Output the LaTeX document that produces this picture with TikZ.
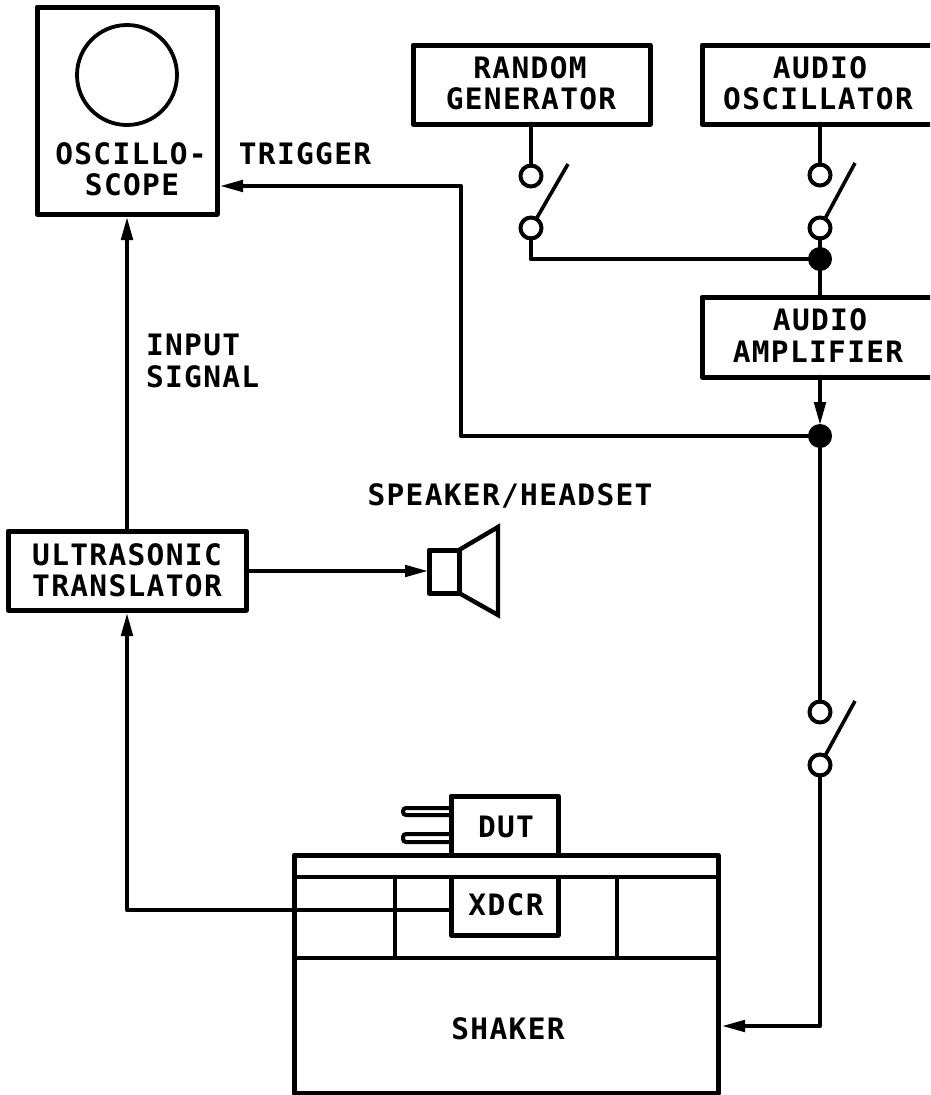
\documentclass[tikz,border=0pt]{standalone}
\usepackage{fontspec}
\setmainfont{DejaVu Sans Mono}[BoldFont=* Bold]
\usetikzlibrary{arrows.meta}
\tikzset{
  x=1pt,y=-1pt,
  wire/.style={line width=4.6pt,line join=round,line cap=round},
  armwire/.style={line width=3.6pt},
  flow/.style={wire,-{Triangle[length=24pt,width=11pt,sep=0pt]}},
  box/.style={draw,line width=5pt,line join=round},
  lab/.style={font=\fontsize{29.5}{31}\selectfont\bfseries\addfontfeature{LetterSpace=4.5},inner sep=0pt,outer sep=0pt,anchor=center},
  labl/.style={lab,anchor=west},
  term/.style={circle,draw,line width=4pt,minimum size=21pt,inner sep=0pt,outer sep=0pt,fill=white},
  jun/.style={circle,fill=black,minimum size=24pt,inner sep=0pt,outer sep=0pt},
}
\begin{document}
\begin{tikzpicture}
\useasboundingbox (0,0) rectangle (930,1095);
\clip (0,0) rectangle (930,1095);
% oscilloscope
\draw[box] (37,7) rectangle (217,214);
\draw[line width=3.8pt] (127,75) circle[radius=50];
\node[lab] (oscA) at (131,154) {OSCILLO-};
\node[lab] (oscB) at (132,185) {SCOPE};
\coordinate (oscS) at (127,216);
\coordinate (oscE) at (219,186);
% generators
\draw[box] (413,45) rectangle (650,124);
\node[lab] (rg1) at (530,68) {RANDOM};
\node[lab] (rg2) at (531,99) {GENERATOR};
\draw[box] (702,45) rectangle (950,124);
\node[lab] (ao1) at (820,68) {AUDIO};
\node[lab] (ao2) at (818,99) {OSCILLATOR};
\draw[box] (702,297) rectangle (950,377);
\node[lab] (am1) at (820,320) {AUDIO};
\node[lab] (am2) at (818,352) {AMPLIFIER};
\draw[box] (8,531) rectangle (246,610);
\node[lab] (ut1) at (127,555) {ULTRASONIC};
\node[lab] (ut2) at (127,586) {TRANSLATOR};
% labels
\node[lab] (trg) at (305,154) {TRIGGER};
\node[labl] (inp) at (146,345) {INPUT};
\node[labl] (sig) at (146,377) {SIGNAL};
\node[lab] (spk) at (510,496) {SPEAKER/HEADSET};
\node[lab] (shk) at (508,1029) {SHAKER};
% switches
\node[term] (s1a) at (531,176) {};
\node[term] (s1b) at (531,228) {};
\node[term] (s2a) at (820,175) {};
\node[term] (s2b) at (820,228) {};
\node[term] (s3a) at (820,712) {};
\node[term] (s3b) at (820,765) {};
\coordinate (arm1) at (568,164);
\coordinate (arm2) at (855,163);
\coordinate (arm3) at (855,701);
\draw[armwire] (s1b) -- (arm1);
\draw[armwire] (s2b) -- (arm2);
\draw[armwire] (s3b) -- (arm3);
% wires
\node[jun] (j1) at (820,259) {};
\node[jun] (j2) at (820,436) {};
\coordinate (genR) at (531,124);
\coordinate (genA) at (820,124);
\coordinate (ampT) at (820,297);
\coordinate (ampB) at (820,377);
\draw[wire] (genR) -- (s1a);
\draw[wire] (genA) -- (s2a);
\draw[wire] (s1b) |- (j1);
\draw[wire] (s2b) -- (j1) -- (ampT);
\draw[flow] (ampB) -- (820,426);
\draw[wire] (j2) -- (s3a);
\draw[flow] (j2) -- (461,436) -- (461,186) -- (oscE);
\draw[flow] (127,531) -- (oscS);
\coordinate (shkin) at (721,1026);
\draw[flow] (s3b) -- (820,1026) -- (shkin);
% speaker
\draw[box] (429,550) rectangle (459,593);
\draw[line width=4.4pt,line join=miter] (459,550) -- (498,527) -- (498,615) -- (459,593);
\coordinate (spkin) at (429,571);
\draw[flow] (246,571) -- (spkin);
% shaker
\draw[box] (294,855) rectangle (718,1093);
\draw[line width=4.5pt] (294,877) -- (718,877);
\draw[line width=4.5pt] (294,958) -- (718,958);
\draw[line width=4.5pt] (395,877) -- (395,958);
\draw[line width=4.5pt] (617,877) -- (617,958);
% DUT
\draw[box] (451,855) -- (451,796) -- (558,796) -- (558,855);
\node[lab] (dut) at (506,827) {DUT};
\draw[line width=4pt,rounded corners=3pt] (451,808) -- (403,808) -- (403,815) -- (451,815);
\draw[line width=4pt,rounded corners=3pt] (451,834) -- (403,834) -- (403,842) -- (451,842);
% XDCR
\draw[box] (451,877) -- (451,935) -- (558,935) -- (558,877);
\node[lab] (xdc) at (506,905) {XDCR};
\coordinate (xd) at (451,910);
\draw[flow] (xd) -- (127,910) -- (127,612);
\end{tikzpicture}
\end{document}
